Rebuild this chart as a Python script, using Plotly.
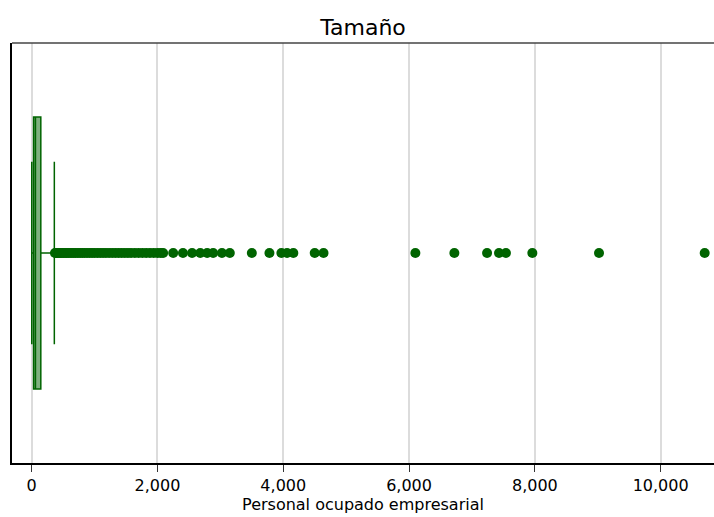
import plotly.graph_objects as go

# Box statistics (Personal ocupado empresarial)
q1 = [30]
median = [60]
q3 = [145]
lower_fence = [1]
upper_fence = [360]

outliers = [
    370, 385, 400, 420, 440, 460, 480, 505, 530, 555, 580, 610, 640, 670,
    700, 735, 770, 805, 840, 880, 920, 960, 1000, 1045, 1090, 1135, 1180,
    1230, 1280, 1330, 1380, 1430, 1480, 1530, 1580, 1640, 1700, 1760,
    1820, 1880, 1940, 2000, 2050, 2090,
    2250, 2405, 2550, 2680, 2790, 2885, 3025, 3150,
    3500, 3780, 3970, 4060, 4160, 4500, 4640,
    6100, 6720, 7240, 7430, 7540, 7960, 9020, 10700,
]

tick_vals = [0, 2000, 4000, 6000, 8000, 10000]
tick_text = ["0", "2,000", "4,000", "6,000", "8,000", "10,000"]

green = "#006400"

fig = go.Figure()
fig.add_trace(go.Box(
    y=[0], q1=q1, median=median, q3=q3,
    lowerfence=lower_fence, upperfence=upper_fence,
    orientation="h", boxpoints=False,
    width=0.648, whiskerwidth=0.67,
    fillcolor="rgba(0,100,0,0.5)",
    line=dict(color=green, width=1.5),
    showlegend=False, hoverinfo="skip",
))
fig.add_trace(go.Scatter(
    x=outliers, y=[0] * len(outliers), mode="markers",
    marker=dict(color=green, size=10, line=dict(width=0)),
    showlegend=False, cliponaxis=False,
))

fig.update_layout(
    width=714, height=517,
    margin=dict(l=12, r=0, t=43, b=54),
    paper_bgcolor="white", plot_bgcolor="white",
    font=dict(family="DejaVu Sans, Arial, sans-serif", color="black", size=16),
    title=dict(text="Tamaño", x=0.5, xref="paper", y=1 - 27 / 517, yref="container",
               yanchor="middle", xanchor="center",
               font=dict(size=22, color="black")),
    xaxis=dict(
        range=[-313, 10848], tickvals=tick_vals, ticktext=tick_text,
        showgrid=True, gridcolor="#dcdcdc", gridwidth=1.5,
        zeroline=False, showline=True, linecolor="black", linewidth=1.5,
        ticks="outside", ticklen=7, tickcolor="#333333", tickwidth=1,
        tickfont=dict(size=16),
        title=dict(text="Personal ocupado empresarial", font=dict(size=16), standoff=0),
    ),
    yaxis=dict(
        range=[-0.5, 0.5], showticklabels=False, showgrid=False, zeroline=False,
        showline=True, linecolor="black", linewidth=1.5, ticks="",
    ),
    shapes=[dict(type="line", xref="paper", yref="paper", x0=0, x1=1, y0=1, y1=1,
                 line=dict(color="#444444", width=1.5))],
)

fig.write_html("out.html", post_script="document.body.style.margin='0';",
               config={"displayModeBar": False})
